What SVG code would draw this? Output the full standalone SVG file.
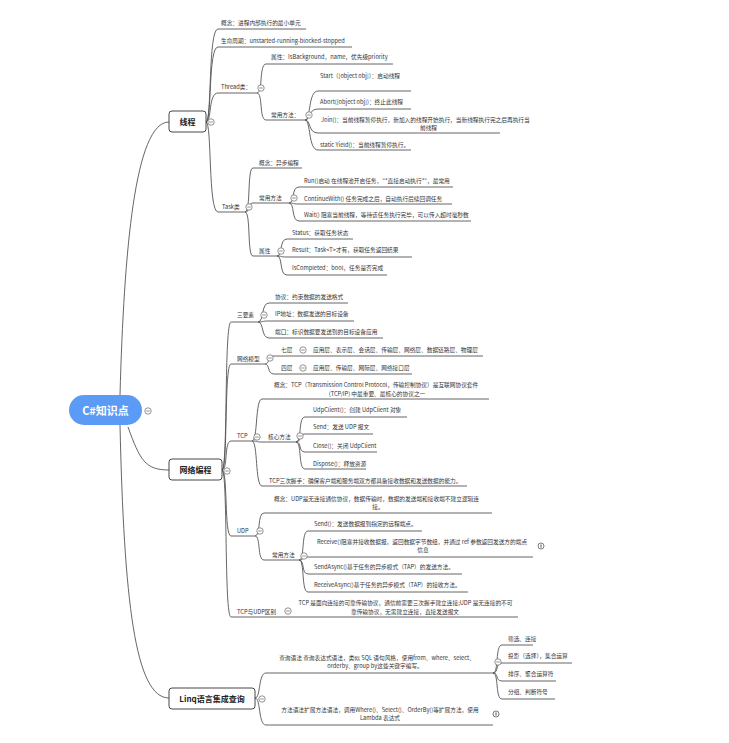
<svg xmlns="http://www.w3.org/2000/svg" width="729" height="743" viewBox="0 0 729 743">
<style>
.t{font-family:"Noto Sans CJK SC","Noto Sans","Liberation Sans",sans-serif;font-size:5.7px;fill:#333}
.m{text-anchor:middle}
.ul{stroke:#555;stroke-width:0.9;fill:none}
.c path{stroke:#555;stroke-width:0.9;fill:none}
.box{fill:#fff;stroke:#333;stroke-width:0.9}
.l1{font-family:"Noto Sans CJK SC","Liberation Sans",sans-serif;font-size:8px;font-weight:bold;fill:#222;text-anchor:middle}
</style>
<defs>
<g id="btn"><circle r="3.2" fill="#fff" stroke="#666" stroke-width="0.7"/><line x1="-1.8" y1="0" x2="1.8" y2="0" stroke="#666" stroke-width="0.7"/></g>
<g id="info"><circle r="3" fill="#fff" stroke="#444" stroke-width="0.7"/><line x1="0" y1="-1.6" x2="0" y2="1.6" stroke="#444" stroke-width="0.9"/></g>
</defs>
<rect width="729" height="743" fill="#fff"/>

<g class="c" id="connectors">
<path d="M120 395 C124 250 135 122 169 122"/>
<path d="M128 427 C140 460 145 470 169 470"/>
<path d="M120 425 C124 600 135 698 169 698"/>
<path d="M206 122 C212 122 208 29 218 29"/>
<path d="M206 122 C212 122 208 47 218 47"/>
<path d="M206 122 C212 122 208 93 218 93"/>
<path d="M206 122 C212 122 208 212 218 212"/>
<path d="M257 93 C263 93 259 64 266 64"/>
<path d="M257 93 C263 93 259 120 266 120"/>
<path d="M305 120 C311 120 308 91 318 91"/>
<path d="M305 120 C311 120 308 109 318 109"/>
<path d="M305 120 C311 120 308 133 318 133"/>
<path d="M305 120 C311 120 308 150 318 150"/>
<path d="M245 212 C251 212 247 168 253 168"/>
<path d="M245 212 C251 212 247 203 253 203"/>
<path d="M245 212 C251 212 247 256 253 256"/>
<path d="M289 203 C295 203 291 187 299 187"/>
<path d="M289 203 C295 203 291 204 299 204"/>
<path d="M289 203 C295 203 291 221 299 221"/>
<path d="M277 256 C283 256 279 239 287 239"/>
<path d="M277 256 C283 256 279 257 287 257"/>
<path d="M277 256 C283 256 279 275 287 275"/>
<path d="M222 470 C228 470 224 322 231 322"/>
<path d="M222 470 C228 470 224 364 231 364"/>
<path d="M222 470 C228 470 224 441 231 441"/>
<path d="M222 470 C228 470 224 536 231 536"/>
<path d="M222 470 C228 470 224 617 231 617"/>
<path d="M258 322 C264 322 261 303 269 303"/>
<path d="M258 322 C264 322 261 321 269 321"/>
<path d="M258 322 C264 322 261 338 269 338"/>
<path d="M265 364 C270 364 267 356 274 356"/>
<path d="M265 364 C270 364 267 374 274 374"/>
<path d="M252 441 C258 441 255 399 262 399"/>
<path d="M252 441 C258 441 255 442 262 442"/>
<path d="M252 441 C258 441 255 486 262 486"/>
<path d="M296 442 C302 442 298 417 305 417"/>
<path d="M296 442 C302 442 298 434 305 434"/>
<path d="M296 442 C302 442 298 452 305 452"/>
<path d="M296 442 C302 442 298 469 305 469"/>
<path d="M255 536 C261 536 257 513 264 513"/>
<path d="M255 536 C261 536 257 560 264 560"/>
<path d="M299 560 C305 560 301 531 308 531"/>
<path d="M299 560 C305 560 301 557 308 557"/>
<path d="M299 560 C305 560 301 574 308 574"/>
<path d="M299 560 C305 560 301 592 308 592"/>
<path d="M255 698 C261 698 258 673 266 673"/>
<path d="M255 698 C261 698 258 725 266 725"/>
<path d="M493 673 C499 673 495 645 502 645"/>
<path d="M493 673 C499 673 495 663 502 663"/>
<path d="M493 673 C499 673 495 681 502 681"/>
<path d="M493 673 C499 673 495 699 502 699"/>
</g>

<g id="root">
<rect x="69" y="395" width="73" height="30" rx="15" fill="#5b9bf6"/>
<text x="105.5" y="414.5" font-family="Noto Sans CJK SC,Liberation Sans,sans-serif" font-size="11" font-weight="bold" fill="#fff" text-anchor="middle">C#知识点</text>
<use href="#btn" x="148" y="411"/>
</g>

<g id="n-thread">
<rect class="box" x="169" y="111" width="37" height="21" rx="3"/>
<text class="l1" x="187.5" y="124.8">线程</text>
<use href="#btn" x="211" y="122"/>
</g>
<g id="n-thread-concept"><text class="t" x="221" y="25">概念：进程内部执行的最小单元</text><path class="ul" d="M218 29H306"/></g>
<g id="n-thread-life"><text class="t" x="221" y="43">生命周期：unstarted-running-blocked-stopped</text><path class="ul" d="M218 47H352"/></g>
<g id="n-threadclass"><text class="t" x="221" y="89">Thread类：</text><path class="ul" d="M218 93H257"/><use href="#btn" x="261" y="88"/></g>
<g id="n-thread-prop"><text class="t" x="271" y="59">属性：IsBackground，name，优先级priority</text><path class="ul" d="M266 64H393"/></g>
<g id="n-thread-methods"><text class="t" x="271" y="117">常用方法：</text><path class="ul" d="M266 120H305"/><use href="#btn" x="309" y="115"/></g>
<g id="n-start"><text class="t" x="320" y="78">Start（[object obj]）：启动线程</text><path class="ul" d="M318 91H411"/></g>
<g id="n-abort"><text class="t" x="320" y="104">Abort([object obj])：终止此线程</text><path class="ul" d="M318 109H411"/></g>
<g id="n-join"><text class="t" x="321" y="122">Join()：当前线程暂停执行，新加入的线程开始执行，当新线程执行完之后再执行当</text><text class="t" x="420" y="130">前线程</text><path class="ul" d="M318 133H500"/></g>
<g id="n-yield"><text class="t" x="320" y="147">static Yield()：当前线程暂停执行。</text><path class="ul" d="M318 150H411"/></g>

<g id="n-task"><text class="t" x="222" y="209">Task类</text><path class="ul" d="M218 212H245"/><use href="#btn" x="249" y="207"/></g>
<g id="n-task-concept"><text class="t" x="259" y="165">概念：异步编程</text><path class="ul" d="M253 168H302"/></g>
<g id="n-task-methods"><text class="t" x="259" y="200">常用方法</text><path class="ul" d="M253 203H289"/><use href="#btn" x="294" y="198"/></g>
<g id="n-run"><text class="t" x="304" y="183">Run()启动 在线程池开启任务，"*直接启动执行*"，最常用</text><path class="ul" d="M299 187H453"/></g>
<g id="n-continue"><text class="t" x="304" y="201">ContinueWith() 任务完成之后，自动执行后续回调任务</text><path class="ul" d="M299 204H452"/></g>
<g id="n-wait"><text class="t" x="304" y="217">Wait() 阻塞当前线程，等待该任务执行完毕，可以传入超时毫秒数</text><path class="ul" d="M299 221H471"/></g>
<g id="n-task-prop"><text class="t" x="259" y="253">属性</text><path class="ul" d="M253 256H277"/><use href="#btn" x="281" y="251"/></g>
<g id="n-status"><text class="t" x="292" y="235">Status：获取任务状态</text><path class="ul" d="M287 239H353"/></g>
<g id="n-result"><text class="t" x="292" y="252">Result：Task&lt;T&gt;才有，获取任务返回结果</text><path class="ul" d="M287 257H412"/></g>
<g id="n-iscompleted"><text class="t" x="292" y="270">IsCompleted：bool，任务是否完成</text><path class="ul" d="M287 275H387"/></g>

<g id="n-net">
<rect class="box" x="169" y="459" width="53" height="21" rx="3"/>
<text class="l1" x="195.5" y="472.8">网络编程</text>
<use href="#btn" x="227" y="471"/>
</g>
<g id="n-three"><text class="t" x="237" y="317">三要素</text><path class="ul" d="M231 322H258"/><use href="#btn" x="264" y="315"/></g>
<g id="n-protocol"><text class="t" x="275" y="299">协议：约束数据的发送格式</text><path class="ul" d="M269 303H348"/></g>
<g id="n-ip"><text class="t" x="275" y="316">IP地址：数据发送的目标设备</text><path class="ul" d="M269 321H354"/></g>
<g id="n-port"><text class="t" x="275" y="334">端口：标识数据要发送到的目标设备应用</text><path class="ul" d="M269 338H383"/></g>
<g id="n-model"><text class="t" x="237" y="361">网络模型</text><path class="ul" d="M231 364H265"/><use href="#btn" x="270" y="358"/></g>
<g id="n-seven"><text class="t" x="281" y="352">七层</text><path class="ul" d="M274 356H483"/><use href="#btn" x="303" y="350"/><text class="t" x="313" y="352">应用层、表示层、会话层、传输层、网络层、数据链路层、物理层</text></g>
<g id="n-four"><text class="t" x="281" y="370">四层</text><path class="ul" d="M274 374H412"/><use href="#btn" x="303" y="368"/><text class="t" x="313" y="370">应用层、传输层、网际层、网络接口层</text></g>
<g id="n-tcp"><text class="t" x="237" y="438">TCP</text><path class="ul" d="M231 441H252"/><use href="#btn" x="257" y="437"/></g>
<g id="n-tcp-concept"><text class="t" x="274" y="387">概念：TCP（Transmission Control Protocol，传输控制协议）是互联网协议套件</text><text class="t m" x="377" y="395.5">(TCP/IP) 中最重要、最核心的协议之一</text><path class="ul" d="M262 399H489"/></g>
<g id="n-tcp-core"><text class="t" x="268" y="439">核心方法</text><path class="ul" d="M262 442H296"/><use href="#btn" x="300" y="436"/></g>
<g id="n-udpclient"><text class="t" x="313" y="412">UdpClient()：创建 UdpClient 对象</text><path class="ul" d="M305 417H407"/></g>
<g id="n-send"><text class="t" x="313" y="429">Send：发送 UDP 报文</text><path class="ul" d="M305 434H373"/></g>
<g id="n-close"><text class="t" x="313" y="448">Close()：关闭 UdpClient</text><path class="ul" d="M305 452H377"/></g>
<g id="n-dispose"><text class="t" x="313" y="466">Dispose()：释放资源</text><path class="ul" d="M305 469H366"/></g>
<g id="n-handshake"><text class="t" x="269" y="483">TCP三次握手：确保客户端和服务端双方都具备接收数据和发送数据的能力。</text><path class="ul" d="M262 486H467"/></g>
<g id="n-udp"><text class="t" x="237" y="533">UDP</text><path class="ul" d="M231 536H255"/><use href="#btn" x="260" y="531"/></g>
<g id="n-udp-concept"><text class="t" x="274" y="501">概念：UDP是无连接通信协议，数据传输时，数据的发送端和接收端不建立逻辑连</text><text class="t m" x="378" y="509">接。</text><path class="ul" d="M264 513H492"/></g>
<g id="n-udp-methods"><text class="t" x="272" y="557">常用方法</text><path class="ul" d="M264 560H299"/><use href="#btn" x="304" y="556"/></g>
<g id="n-udp-send"><text class="t" x="314" y="526">Send()：发送数据报到指定的远程端点。</text><path class="ul" d="M308 531H422"/></g>
<g id="n-receive"><text class="t" x="317" y="544">Receive()阻塞并接收数据报，返回数据字节数组，并通过 ref 参数返回发送方的端点</text><text class="t m" x="423" y="552">信息</text><path class="ul" d="M308 557H533"/><use href="#info" x="541" y="546"/></g>
<g id="n-sendasync"><text class="t" x="314" y="569">SendAsync()基于任务的异步模式（TAP）的发送方法。</text><path class="ul" d="M308 574H462"/></g>
<g id="n-receiveasync"><text class="t" x="314" y="587">ReceiveAsync()基于任务的异步模式（TAP）的接收方法。</text><path class="ul" d="M308 592H468"/></g>
<g id="n-diff"><text class="t" x="237" y="614">TCP与UDP区别</text><path class="ul" d="M231 617H518"/><use href="#btn" x="288" y="611"/><text class="t m" x="405.5" y="605">TCP 是面向连接的可靠传输协议，通信前需要三次握手建立连接;UDP 是无连接的不可</text><text class="t m" x="405" y="614">靠传输协议，无需建立连接，直接发送报文</text></g>

<g id="n-linq">
<rect class="box" x="169" y="688" width="86" height="21" rx="3"/>
<text class="l1" x="212" y="701.8">Linq语言集成查询</text>
<use href="#btn" x="262" y="699"/>
</g>
<g id="n-query"><text class="t m" x="377" y="660">查询语法 查询表达式语法，类似 SQL 语句风格，使用from、where、select、</text><text class="t m" x="375" y="668">orderby、group by这些关键字编写。</text><path class="ul" d="M266 673H493"/><use href="#btn" x="498" y="662"/></g>
<g id="n-filter"><text class="t" x="508" y="641">筛选、连接</text><path class="ul" d="M502 645H533"/></g>
<g id="n-project"><text class="t" x="508" y="658">投影（选择），集合运算</text><path class="ul" d="M502 663H572"/></g>
<g id="n-sort"><text class="t" x="508" y="676">排序、聚合运算符</text><path class="ul" d="M502 681H556"/></g>
<g id="n-group"><text class="t" x="508" y="694">分组、判断符号</text><path class="ul" d="M502 699H555"/></g>
<g id="n-method"><text class="t m" x="380" y="712">方法语法扩展方法语法，调用Where()、Select()、OrderBy()等扩展方法，使用</text><text class="t m" x="380" y="720">Lambda 表达式</text><path class="ul" d="M266 725H493"/><use href="#info" x="496" y="714"/></g>
</svg>
